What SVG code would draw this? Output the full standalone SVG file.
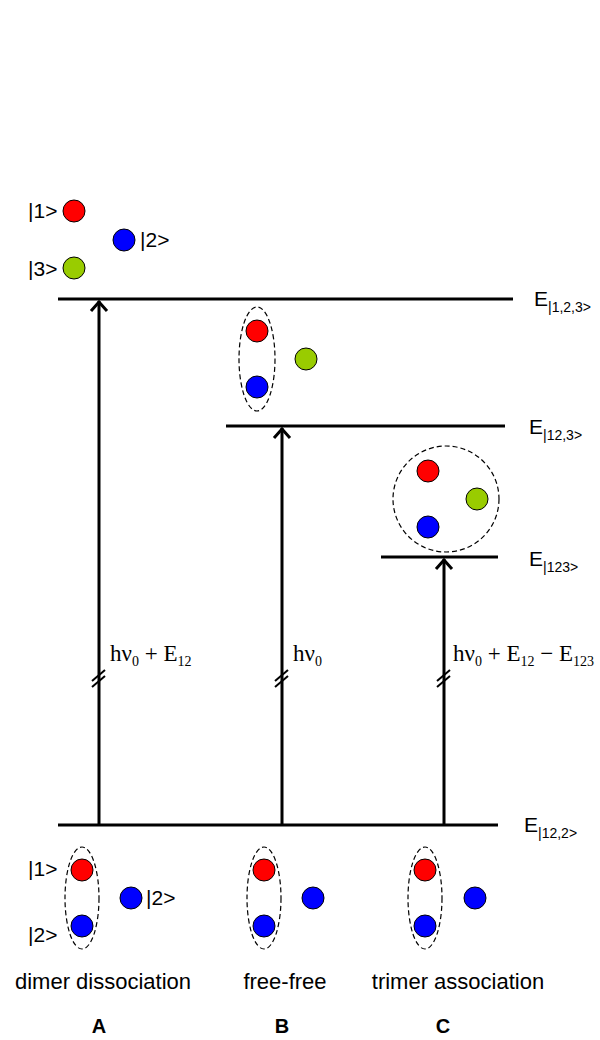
<svg xmlns="http://www.w3.org/2000/svg" width="600" height="1040" viewBox="0 0 600 1040">
<defs>
<style>
.lvl{stroke:#000;stroke-width:3;fill:none}
.arr{stroke:#000;stroke-width:3;fill:none}
.head{stroke:#000;stroke-width:3;fill:none;stroke-linecap:butt}
.brk{stroke:#000;stroke-width:2;fill:none}
.dash{stroke:#000;stroke-width:1.2;fill:none;stroke-dasharray:5,3}
.red{fill:#ff0000;stroke:#000;stroke-width:1}
.blue{fill:#0000ff;stroke:#000;stroke-width:1}
.green{fill:#99cc00;stroke:#000;stroke-width:1}
.lab{font-family:"Liberation Sans",Arial,sans-serif;font-size:21px;fill:#000}
.el{font-family:"Liberation Sans",Arial,sans-serif;font-size:21px;fill:#000}
.sub{font-size:14px}
.f{font-family:"Liberation Serif","Times New Roman",serif;font-size:23px;fill:#000}
.fs{font-size:14px}
.cap{font-family:"Liberation Sans",Arial,sans-serif;font-size:22px;fill:#000;text-anchor:middle}
.big{font-family:"Liberation Sans",Arial,sans-serif;font-size:20px;font-weight:bold;fill:#000;text-anchor:middle}
</style>
</defs>
<g id="levels">
<g id="level-123-free"><line class="lvl" x1="58" y1="299" x2="513" y2="299"/><text class="el" x="534" y="306">E<tspan class="sub" dy="6">|1,2,3&gt;</tspan></text></g>
<g id="level-12-3"><line class="lvl" x1="226" y1="426" x2="505" y2="426"/><text class="el" x="529" y="434">E<tspan class="sub" dy="6">|12,3&gt;</tspan></text></g>
<g id="level-123"><line class="lvl" x1="381" y1="557" x2="498" y2="557"/><text class="el" x="529" y="566">E<tspan class="sub" dy="6">|123&gt;</tspan></text></g>
<g id="level-12-2"><line class="lvl" x1="58" y1="825" x2="498" y2="825"/><text class="el" x="524" y="832">E<tspan class="sub" dy="6">|12,2&gt;</tspan></text></g>
</g>
<g id="connectors">
<g id="arrow-A">
<line class="arr" x1="99" y1="825" x2="99" y2="301"/>
<polyline class="head" points="91,311 99,302 107,311"/>
<line class="brk" x1="92" y1="681" x2="105" y2="670"/>
<line class="brk" x1="92" y1="687" x2="105" y2="676"/>
<text class="f" x="110" y="661">hν<tspan class="fs" dy="5">0</tspan><tspan dy="-5"> + E</tspan><tspan class="fs" dy="5">12</tspan></text>
</g>
<g id="arrow-B">
<line class="arr" x1="282" y1="825" x2="282" y2="428"/>
<polyline class="head" points="274,438 282,429 290,438"/>
<line class="brk" x1="275" y1="681" x2="288" y2="670"/>
<line class="brk" x1="275" y1="687" x2="288" y2="676"/>
<text class="f" x="293" y="661">hν<tspan class="fs" dy="5">0</tspan></text>
</g>
<g id="arrow-C">
<line class="arr" x1="444" y1="825" x2="444" y2="559"/>
<polyline class="head" points="436,569 444,560 452,569"/>
<line class="brk" x1="437" y1="681" x2="450" y2="670"/>
<line class="brk" x1="437" y1="687" x2="450" y2="676"/>
<text class="f" x="453" y="661">hν<tspan class="fs" dy="5">0</tspan><tspan dy="-5"> + E</tspan><tspan class="fs" dy="5">12</tspan><tspan dy="-5"> − E</tspan><tspan class="fs" dy="5">123</tspan></text>
</g>
</g>
<g id="state-free">
<circle class="red" cx="74" cy="211" r="11"/>
<circle class="blue" cx="124" cy="240" r="11"/>
<circle class="green" cx="74" cy="268" r="11"/>
<text class="lab" x="28" y="218">|1&gt;</text>
<text class="lab" x="140" y="247">|2&gt;</text>
<text class="lab" x="28" y="276">|3&gt;</text>
</g>
<g id="state-dimer-free">
<ellipse class="dash" cx="257" cy="359" rx="18" ry="52"/>
<circle class="red" cx="257" cy="331" r="11"/>
<circle class="blue" cx="257" cy="387" r="11"/>
<circle class="green" cx="306" cy="359" r="11"/>
</g>
<g id="state-trimer">
<circle class="dash" cx="446" cy="499" r="53"/>
<circle class="red" cx="428" cy="471" r="11"/>
<circle class="green" cx="477" cy="499" r="11"/>
<circle class="blue" cx="428" cy="527" r="11"/>
</g>
<g id="initial-A">
<ellipse class="dash" cx="82" cy="898" rx="17" ry="51"/>
<circle class="red" cx="82" cy="870" r="11"/>
<circle class="blue" cx="82" cy="926" r="11"/>
<circle class="blue" cx="131" cy="898" r="11"/>
<text class="lab" x="28" y="876">|1&gt;</text>
<text class="lab" x="28" y="942">|2&gt;</text>
<text class="lab" x="146" y="905">|2&gt;</text>
<text class="cap" x="103" y="989">dimer dissociation</text>
<text class="big" x="99" y="1033">A</text>
</g>
<g id="initial-B">
<ellipse class="dash" cx="264" cy="898" rx="17" ry="51"/>
<circle class="red" cx="264" cy="870" r="11"/>
<circle class="blue" cx="264" cy="926" r="11"/>
<circle class="blue" cx="313" cy="898" r="11"/>
<text class="cap" x="285" y="989">free-free</text>
<text class="big" x="282" y="1033">B</text>
</g>
<g id="initial-C">
<ellipse class="dash" cx="425" cy="898" rx="17" ry="51"/>
<circle class="red" cx="425" cy="870" r="11"/>
<circle class="blue" cx="425" cy="926" r="11"/>
<circle class="blue" cx="475" cy="898" r="11"/>
<text class="cap" x="458" y="989">trimer association</text>
<text class="big" x="443" y="1033">C</text>
</g>
</svg>
